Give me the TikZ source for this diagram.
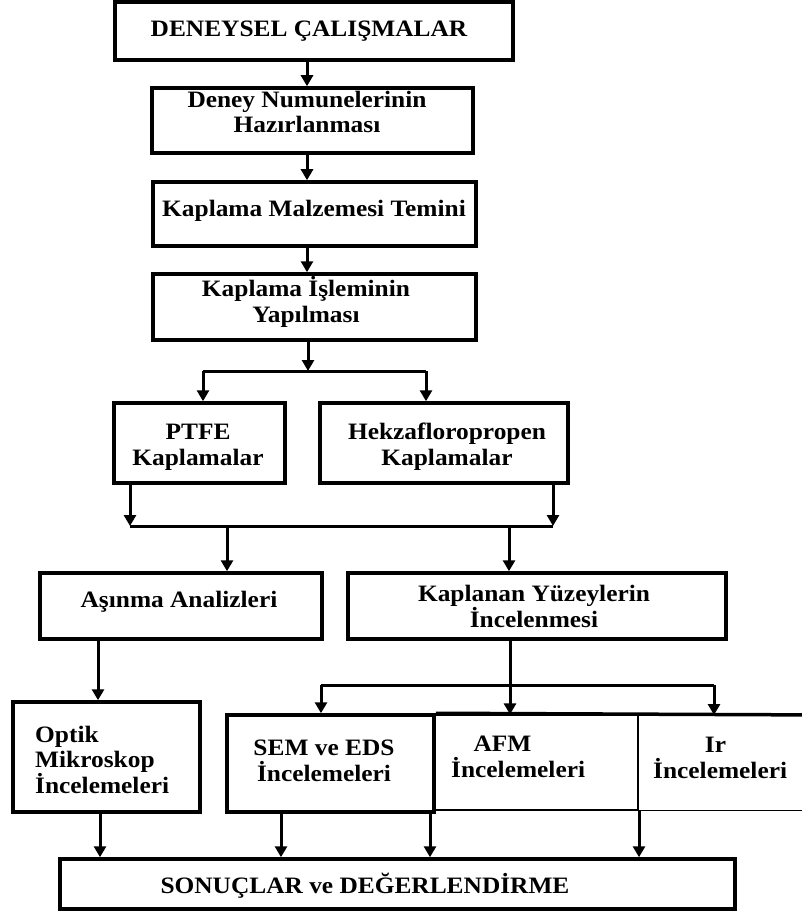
\documentclass[tikz,border=0pt]{standalone}
\usepackage{fontspec}
\setmainfont{Liberation Serif}[FakeStretch=1.08]
\usetikzlibrary{arrows.meta}
\begin{document}
\begin{tikzpicture}[x=1pt,y=-1pt,
  box/.style={draw=black,line width=3.5pt,rectangle,inner sep=0pt},
  thinbox/.style={draw=black,line width=1.2pt,rectangle,inner sep=0pt},
  txt/.style={font=\fontsize{23.5}{25.5}\selectfont\bfseries,inner sep=0pt,align=center,anchor=base},
  ln/.style={line width=3pt},
  arr/.style={line width=3pt,-{Triangle[width=12pt,length=11pt]}}]
\useasboundingbox (0,0) rectangle (801,912);
% boxes
\node[box,minimum width=398pt,minimum height=58pt] (b1) at (314,31) {};
\node[box,minimum width=321pt,minimum height=65pt] (b2) at (312.5,120.5) {};
\node[box,minimum width=323pt,minimum height=64pt] (b3) at (314.5,214) {};
\node[box,minimum width=323pt,minimum height=66pt] (b4) at (314.5,307) {};
\node[box,minimum width=171pt,minimum height=80pt] (ptfe) at (199.5,443) {};
\node[box,minimum width=248pt,minimum height=80pt] (hek) at (444,443) {};
\node[box,minimum width=282pt,minimum height=66pt] (asi) at (181,606) {};
\node[box,minimum width=378pt,minimum height=66pt] (kay) at (537,606) {};
\node[box,minimum width=187pt,minimum height=110pt] (opt) at (106.5,757) {};
\node[thinbox,minimum width=204pt,minimum height=95pt] (afm) at (536,762.5) {};
\node[thinbox,minimum width=190pt,minimum height=95pt,anchor=north west] (ir) at (638,715) {};
\node[box,minimum width=207pt,minimum height=97pt] (sem) at (330.5,763.5) {};
\draw[line width=3.5pt] (sem.north east) -- (ir.north east);
\node[box,minimum width=675pt,minimum height=50pt] (son) at (397.5,884) {};
% texts (multi-line nodes: base = last line)
\node[txt] (t1) at (309,37) {DENEYSEL ÇALIŞMALAR};
\node[txt] (t2) at (307,133) {Deney Numunelerinin\\Hazırlanması};
\node[txt] (t3) at (314,216) {Kaplama Malzemesi Temini};
\node[txt] (t4) at (306,322) {Kaplama İşleminin\\Yapılması};
\node[txt] (t5) at (198,465) {PTFE\\Kaplamalar};
\node[txt] (t6) at (447,465) {Hekzafloropropen\\Kaplamalar};
\node[txt] (t7) at (179,607) {Aşınma Analizleri};
\node[txt] (t8) at (534,627) {Kaplanan Yüzeylerin\\İncelenmesi};
\node[txt,align=left,anchor=base west] (t9) at (35,793) {Optik\\Mikroskop\\İncelemeleri};
\node[txt] (t10) at (324,781) {SEM ve EDS\\İncelemeleri};
\node[txt,align=left,anchor=base west] (t11) at (451,777) {\hspace*{0.95em}AFM\\İncelemeleri};
\node[txt,align=left,anchor=base west] (t12) at (653,778) {\hspace*{2.2em}Ir\\İncelemeleri};
\node[txt] (t13) at (365,893) {SONUÇLAR ve DEĞERLENDİRME};
% connectors
\coordinate (sp) at (307,0);
\draw[arr] (sp |- b1.south) -- (sp |- b2.north);
\draw[arr] (sp |- b2.south) -- (sp |- b3.north);
\draw[arr] (sp |- b3.south) -- (sp |- b4.north);
\coordinate (j1) at (308,371);
\coordinate (j1l) at (203,371);
\coordinate (j1r) at (426,371);
\draw[arr] (j1 |- b4.south) -- (j1);
\draw[ln] (j1l) -- (j1r);
\draw[arr] (j1l) -- (j1l |- ptfe.north);
\draw[arr] (j1r) -- (j1r |- hek.north);
\coordinate (j2l) at (130,526);
\coordinate (j2r) at (553,526);
\coordinate (j2a) at (227,526);
\coordinate (j2b) at (509,526);
\draw[arr] (j2l |- ptfe.south) -- (j2l);
\draw[arr] (j2r |- hek.south) -- (j2r);
\draw[ln] (j2l) -- (j2r);
\draw[arr] (j2a) -- (j2a |- asi.north);
\draw[arr] (j2b) -- (j2b |- kay.north);
\coordinate (a3) at (98,0);
\draw[arr] (a3 |- asi.south) -- (a3 |- opt.north);
\coordinate (j3) at (510,685);
\coordinate (j3l) at (321,685);
\coordinate (j3r) at (714,685);
\draw[ln] (j3 |- kay.south) -- (j3);
\draw[ln] (j3l) -- (j3r);
\draw[arr] (j3l) -- (j3l |- sem.north);
\draw[arr] (j3) -- (j3 |- afm.north);
\draw[arr] (j3r) -- (j3r |- ir.north);
\coordinate (k1) at (100,0);
\coordinate (k2) at (281,0);
\coordinate (k3) at (430,0);
\coordinate (k4) at (639,0);
\draw[arr] (k1 |- opt.south) -- (k1 |- son.north);
\draw[arr] (k2 |- sem.south) -- (k2 |- son.north);
\draw[arr] (k3 |- sem.south) -- (k3 |- son.north);
\draw[arr] (k4 |- ir.south) -- (k4 |- son.north);
\end{tikzpicture}
\end{document}
